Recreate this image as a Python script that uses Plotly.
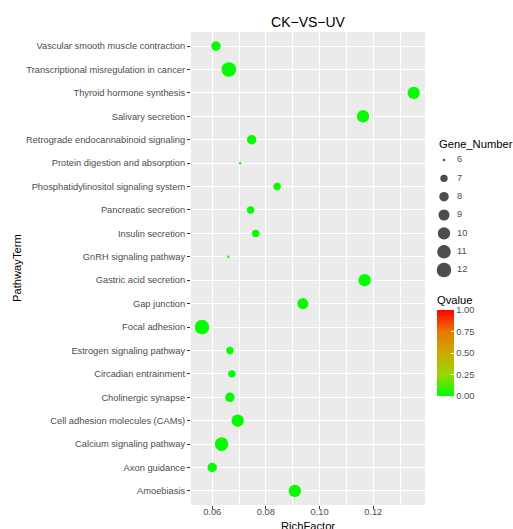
import math
import plotly.graph_objects as go

# ---------------- data ----------------
pathways = [
    "Vascular smooth muscle contraction",
    "Transcriptional misregulation in cancer",
    "Thyroid hormone synthesis",
    "Salivary secretion",
    "Retrograde endocannabinoid signaling",
    "Protein digestion and absorption",
    "Phosphatidylinositol signaling system",
    "Pancreatic secretion",
    "Insulin secretion",
    "GnRH signaling pathway",
    "Gastric acid secretion",
    "Gap junction",
    "Focal adhesion",
    "Estrogen signaling pathway",
    "Circadian entrainment",
    "Cholinergic synapse",
    "Cell adhesion molecules (CAMs)",
    "Calcium signaling pathway",
    "Axon guidance",
    "Amoebiasis",
]
rich_factor = [0.0614, 0.0662, 0.1351, 0.1162, 0.0747, 0.0704, 0.0842, 0.0743, 0.0762, 0.0660,
               0.1168, 0.0938, 0.0562, 0.0666, 0.0673, 0.0666, 0.0695, 0.0635, 0.0600, 0.0908]
gene_number = [8, 12, 10, 10, 8, 6, 7, 7, 7, 6,
               10, 9, 12, 7, 7, 8, 10, 11, 8, 10]
qvalue = [0.01, 0.01, 0.01, 0.01, 0.01, 0.02, 0.01, 0.01, 0.01, 0.02,
          0.01, 0.01, 0.01, 0.01, 0.01, 0.01, 0.01, 0.01, 0.01, 0.01]

x_ticks = [0.06, 0.08, 0.10, 0.12]
x_tick_labels = ["0.06", "0.08", "0.10", "0.12"]
gene_breaks = [6, 7, 8, 9, 10, 11, 12]
q_ticks = [0.0, 0.25, 0.5, 0.75, 1.0]
q_tick_labels = ["0.00", "0.25", "0.50", "0.75", "1.00"]

# ---------------- layout helpers ----------------
W, H = 513, 529
ML, MR, MT, MB = 191, 5, 32, 24
PW = W - ML - MR
PH = H - MT - MB
PANEL_RIGHT = 425
FONT = "Liberation Sans, Arial, Helvetica, sans-serif"
GREY30 = "#4D4D4D"


def px_x(p):
    return (p - ML) / PW


def px_y(p):
    return 1 - (p - MT) / PH


G_MIN, G_MAX = min(gene_breaks), max(gene_breaks)


def marker_px(g):
    # ggplot-like area scale, range 1..6 -> pixels
    return 14.6 / 6.0 * (1 + 5 * math.sqrt((g - G_MIN) / (G_MAX - G_MIN)))


colorscale = [
    [0.0, "#00FF00"],
    [0.25, "#98D700"],
    [0.5, "#C9AB00"],
    [0.75, "#E87700"],
    [1.0, "#FF0000"],
]

fig = go.Figure()

# main bubble trace
fig.add_trace(go.Scatter(
    x=rich_factor,
    y=pathways,
    mode="markers",
    marker=dict(
        size=[marker_px(g) for g in gene_number],
        color=qvalue,
        cmin=0, cmax=1,
        colorscale=colorscale,
        line=dict(width=0),
        opacity=1,
        showscale=True,
        colorbar=dict(
            title=dict(text="Qvalue", side="top",
                       font=dict(family=FONT, size=11.2, color="black")),
            x=px_x(437), xanchor="left",
            y=px_y(293), yanchor="top",
            len=103, lenmode="pixels",
            thickness=17, thicknessmode="pixels",
            xpad=0, ypad=0,
            outlinewidth=0,
            tickvals=q_ticks, ticktext=q_tick_labels,
            ticks="inside", tickcolor="white", ticklen=3, tickwidth=1,
            tickfont=dict(family=FONT, size=9.3, color=GREY30),
        ),
    ),
    showlegend=False,
    xaxis="x", yaxis="y",
))

# size legend drawn on an auxiliary axis
fig.add_trace(go.Scatter(
    x=[0.2] * len(gene_breaks),
    y=gene_breaks,
    mode="markers",
    marker=dict(size=[marker_px(g) for g in gene_breaks], color="black", line=dict(width=0)),
    showlegend=False,
    xaxis="x2", yaxis="y2",
    hoverinfo="skip",
))
fig.add_trace(go.Scatter(
    x=[0.3625] * len(gene_breaks),
    y=gene_breaks,
    mode="text",
    text=[str(g) for g in gene_breaks],
    textposition="middle right",
    textfont=dict(family=FONT, size=9.3, color=GREY30),
    showlegend=False,
    xaxis="x2", yaxis="y2",
    hoverinfo="skip",
))

# legend axis mapping: gene 6 at y=160px, 12 at 270px
step = (270 - 160) / 6.0
g_top = 6 + (MT - 160) / step
g_bot = 6 + (H - MB - 160) / step

fig.update_layout(
    width=W, height=H,
    margin=dict(l=ML, r=MR, t=MT, b=MB, pad=0),
    paper_bgcolor="white",
    plot_bgcolor="rgba(0,0,0,0)",
    font=dict(family=FONT, color=GREY30),
    title=dict(text="CK\u2212VS\u2212UV", x=px_x(308), xref="paper", xanchor="center",
               y=1 - 21.7 / H, yref="container", yanchor="middle",
               font=dict(family=FONT, size=14, color="black")),
    xaxis=dict(
        domain=[0, px_x(PANEL_RIGHT)],
        range=[0.0521, 0.1393],
        tickvals=x_ticks, ticktext=x_tick_labels,
        ticks="outside", ticklen=3, tickwidth=1, tickcolor="#333333",
        ticklabelstandoff=-5,
        tickfont=dict(family=FONT, size=9.3, color=GREY30),
        showgrid=True, gridcolor="white", gridwidth=1.1,
        minor=dict(dtick=0.01, tick0=0.05, showgrid=True, gridcolor="white", gridwidth=0.5, ticks=""),
        zeroline=False, showline=False,
        anchor="y",
    ),
    yaxis=dict(
        domain=[0, 1],
        type="category",
        categoryorder="array",
        categoryarray=list(reversed(pathways)),
        range=[-0.6, len(pathways) - 1 + 0.6],
        ticks="outside", ticklen=3, tickwidth=1, tickcolor="#333333",
        tickfont=dict(family=FONT, size=9.3, color=GREY30),
        showgrid=True, gridcolor="white", gridwidth=1.1,
        zeroline=False, showline=False,
        anchor="x",
    ),
    xaxis2=dict(domain=[px_x(428), 1], range=[0, 1], visible=False, fixedrange=True, anchor="y2"),
    yaxis2=dict(domain=[0, 1], range=[g_bot, g_top], visible=False, fixedrange=True, anchor="x2"),
    shapes=[dict(type="rect", xref="x domain", yref="y domain", x0=0, x1=1, y0=0, y1=1,
                 fillcolor="#EBEBEB", line=dict(width=0), layer="below")],
    annotations=[
        dict(text="PathwayTerm", textangle=-90, xref="paper", yref="paper",
             x=px_x(16.5), y=px_y(268.5), xanchor="center", yanchor="middle",
             showarrow=False, font=dict(family=FONT, size=11.2, color="black")),
        dict(text="RichFactor", xref="paper", yref="paper",
             x=px_x(308), y=px_y(526), xanchor="center", yanchor="middle",
             showarrow=False, font=dict(family=FONT, size=11.2, color="black")),
        dict(text="Gene_Number", xref="paper", yref="paper",
             x=px_x(437), y=px_y(144), xanchor="left", yanchor="middle",
             showarrow=False, font=dict(family=FONT, size=11.2, color="black")),
    ],
)

fig.write_html("out.html", config={"displayModeBar": False},
               post_script="document.body.style.margin='0';")
